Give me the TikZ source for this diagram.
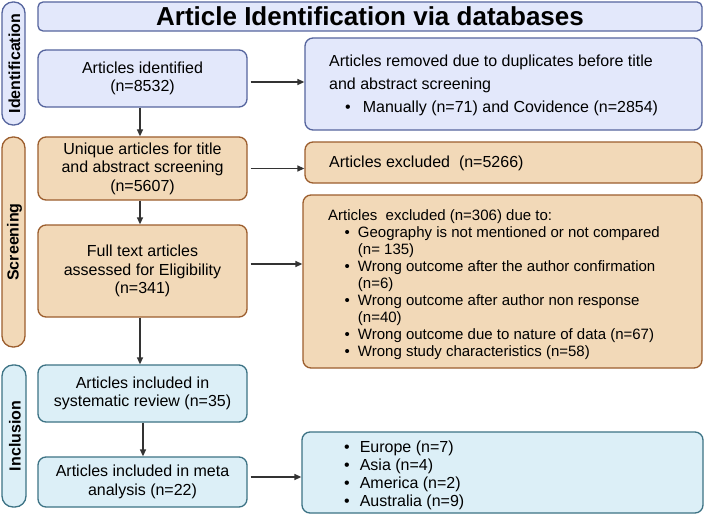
\documentclass[tikz,border=0pt]{standalone}
\usepackage{fontspec}
\setmainfont{Liberation Sans}
\usetikzlibrary{arrows.meta}

\definecolor{idfill}{HTML}{E3E8FB}
\definecolor{idline}{HTML}{56659E}
\definecolor{scfill}{HTML}{F2D9B8}
\definecolor{scline}{HTML}{9C5E2E}
\definecolor{infill}{HTML}{DCEFF7}
\definecolor{incline}{HTML}{3D7385}
\definecolor{arrowc}{HTML}{333333}

\tikzset{
  box/.style={draw, rounded corners=8pt, line width=1.3pt, inner sep=0pt,
    align=center, font=\fontsize{16}{18.5}\selectfont},
  sz/.style 2 args={minimum width=#1pt, minimum height=#2pt},
  idbox/.style={box, draw=idline, fill=idfill},
  scbox/.style={box, draw=scline, fill=scfill},
  inbox/.style={box, draw=incline, fill=infill},
  bar/.style={draw, rounded corners=11pt, line width=1.3pt, inner sep=0pt},
  barlabel/.style={rotate=90, font=\bfseries\fontsize{16}{16}\selectfont, text=black},
  arr/.style={draw=arrowc, line width=1.3pt, -{Triangle[length=7pt,width=6pt]}},
  listtext/.style={anchor=base west, inner sep=0pt, align=left},
}

\begin{document}
\begin{tikzpicture}[x=1pt,y=-1pt]
\useasboundingbox (0,0) rectangle (709,516);
\fill[white] (0,0) rectangle (709,516);

% phase bars
\node[bar, draw=idline, fill=idfill, sz={23}{123}] (idbar) at (13.5,63.5) {};
\node[bar, draw=scline, fill=scfill, sz={23}{210}] (scbar) at (13.5,242) {};
\node[bar, draw=incline, fill=infill, sz={24}{142}] (inbar) at (14,436) {};
\node[barlabel] at ([xshift=1pt]idbar.center) {Identification};
\node[barlabel] at ([xshift=1pt]scbar.center) {Screening};
\node[barlabel] at ([xshift=1pt]inbar.center) {Inclusion};

% title
\node[idbox, sz={664}{29}, rounded corners=5pt, font=\bfseries\fontsize{26}{26}\selectfont]
  (title) at (370,16.5) {Article Identification via databases};

% left column
\node[idbox, sz={209}{57}] (ident) at (142.5,78.5) {Articles identified\\(n=8532)};
\node[scbox, sz={209}{63}] (unique) at (142.5,168.5) {Unique articles for title\\and abstract screening\\(n=5607)};
\node[scbox, sz={209}{92}] (full) at (142.5,271) {Full text articles\\assessed for Eligibility\\(n=341)};
\node[inbox, sz={209}{57}] (sysrev) at (142.5,393.5) {Articles included in\\systematic review (n=35)};
\node[inbox, sz={209}{50}] (meta) at (142.5,482) {Articles included in meta\\analysis (n=22)};

% right column
\node[idbox, sz={397}{92}] (removed) at (503.5,84) {};
\node[scbox, sz={397}{41}] (excl) at (503.5,162.5) {};
\node[scbox, sz={399}{173}] (exclfull) at (502.5,281.5) {};
\node[inbox, sz={401}{81}] (regions) at (502.5,472.5) {};

\node[listtext, font=\fontsize{16}{23}\selectfont] at (329,67)
  {\begin{tabular}[t]{@{\hspace{16pt}}l@{\hspace{12pt}}l@{}}
   \multicolumn{2}{@{}l@{}}{Articles removed due to duplicates before title}\\
   \multicolumn{2}{@{}l@{}}{and abstract screening}\\
   \textbullet & Manually (n=71) and Covidence (n=2854)
   \end{tabular}};

\node[listtext, font=\fontsize{16}{18}\selectfont] at (329,167) {Articles excluded\ \ (n=5266)};

\node[listtext, font=\fontsize{15}{17.1}\selectfont] at (328,220)
  {\begin{tabular}[t]{@{\hspace{16.5pt}}l@{\hspace{8pt}}l@{}}
   \multicolumn{2}{@{}l@{}}{Articles\ \ excluded (n=306) due to:}\\
   \textbullet & Geography is not mentioned or not compared\\
               & (n= 135)\\
   \textbullet & Wrong outcome after the author confirmation\\
               & (n=6)\\
   \textbullet & Wrong outcome after author non response\\
               & (n=40)\\
   \textbullet & Wrong outcome due to nature of data (n=67)\\
   \textbullet & Wrong study characteristics (n=58)
   \end{tabular}};

\node[listtext, font=\fontsize{16}{18}\selectfont] at (344,452)
  {\begin{tabular}[t]{@{}l@{\hspace{10pt}}l@{}}
   \textbullet & Europe (n=7)\\
   \textbullet & Asia (n=4)\\
   \textbullet & America (n=2)\\
   \textbullet & Australia (n=9)
   \end{tabular}};

% connectors
\draw[arr] ([xshift=3pt,yshift=-3.5pt]ident.east) -- ([yshift=-3.5pt]removed.west |- ident.east);
\draw[arr] ([xshift=-2.5pt]ident.south) -- ([xshift=-2.5pt]ident.south |- unique.north);
\draw[arr] ([xshift=3pt]unique.east) -- (excl.west |- unique.east);
\draw[arr] ([xshift=-2.5pt]unique.south) -- ([xshift=-2.5pt]unique.south |- full.north);
\draw[arr] ([xshift=3pt,yshift=7pt]full.east) -- ([yshift=7pt]exclfull.west |- full.east);
\draw[arr] ([xshift=-2.5pt]full.south) -- ([xshift=-2.5pt]full.south |- sysrev.north);
\draw[arr] ([xshift=0.5pt]sysrev.south) -- ([xshift=0.5pt]sysrev.south |- meta.north);
\draw[arr] ([xshift=3pt,yshift=5pt]meta.east) -- ([yshift=5pt]regions.west |- meta.east);
\end{tikzpicture}
\end{document}
